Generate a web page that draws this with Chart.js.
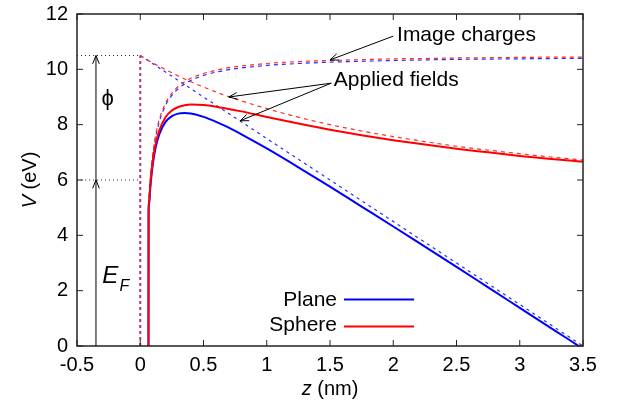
<!DOCTYPE html>
<html>
<head>
<meta charset="utf-8">
<script src="https://cdn.jsdelivr.net/npm/chart.js@4.4.1/dist/chart.umd.min.js"></script>
<style>
  html, body { margin: 0; padding: 0; background: #fff; }
</style>
</head>
<body>
<canvas id="barrierChart" width="620" height="407"></canvas>
<script>
// potential barrier, values (eV vs nm)
const vacuumLevel = 10.5
const fermiLevel = 6

const zTotal = [0.065, 0.066, 0.07, 0.08, 0.1, 0.12, 0.15, 0.2, 0.25, 0.3, 0.35, 0.4, 0.5, 0.6, 0.7, 0.8, 1.0, 1.25, 1.5, 1.75, 2.0, 2.25, 2.5, 2.75, 3.0, 3.25, 3.5]
const planeTotal = [0, 4.85, 5.15, 5.76, 6.6, 7.14, 7.65, 8.1, 8.31, 8.4, 8.42, 8.4, 8.28, 8.1, 7.89, 7.65, 7.14, 6.46, 5.76, 5.04, 4.32, 3.59, 2.86, 2.12, 1.38, 0.64, -0.1]
const sphereTotal = [0, 4.95, 5.25, 5.86, 6.71, 7.26, 7.79, 8.27, 8.51, 8.64, 8.7, 8.73, 8.71, 8.65, 8.57, 8.48, 8.28, 8.04, 7.82, 7.62, 7.44, 7.28, 7.13, 7.0, 6.87, 6.76, 6.66]

const zImage = [0.066, 0.07, 0.08, 0.1, 0.12, 0.15, 0.2, 0.25, 0.3, 0.35, 0.4, 0.5, 0.6, 0.7, 0.8, 1.0, 1.25, 1.5, 1.75, 2.0, 2.25, 2.5, 2.75, 3.0, 3.25, 3.5]
const planeImage = [5.05, 5.36, 6.0, 6.9, 7.5, 8.1, 8.7, 9.06, 9.3, 9.47, 9.6, 9.78, 9.9, 9.99, 10.05, 10.14, 10.21, 10.26, 10.29, 10.32, 10.34, 10.36, 10.37, 10.38, 10.39, 10.4]
const sphereImage = [5.13, 5.44, 6.08, 6.98, 7.58, 8.18, 8.78, 9.14, 9.38, 9.55, 9.68, 9.85, 9.97, 10.06, 10.12, 10.21, 10.28, 10.32, 10.35, 10.38, 10.39, 10.41, 10.42, 10.43, 10.44, 10.44]

const zApplied = [0, 0.1, 0.2, 0.3, 0.4, 0.5, 0.6, 0.7, 0.8, 1.0, 1.25, 1.5, 1.75, 2.0, 2.25, 2.5, 2.75, 3.0, 3.25, 3.5]
const sphereApplied = [10.5, 10.23, 9.99, 9.76, 9.55, 9.36, 9.18, 9.01, 8.86, 8.58, 8.27, 8.0, 7.77, 7.57, 7.39, 7.22, 7.08, 6.95, 6.83, 6.72]
const zPlaneApplied = [0, 3.5]
const planeApplied = [10.5, 0]

const zWall = [0, 0]
const vWall = [0, 10.5]
const zGuide = [-0.5, 0]
const zArrow = -0.35

const xTicks = [-0.5, 0, 0.5, 1, 1.5, 2, 2.5, 3, 3.5]
const yTicks = [0, 2, 4, 6, 8, 10, 12]

const FONT = "'Liberation Sans', Arial, Helvetica, sans-serif"
Chart.defaults.font.family = FONT

const pts = (xs, ys) => xs.map((x, i) => ({x: x, y: ys[i]}))

const line = (data, color, width, dash, smooth) => ({
    data: data,
    borderColor: color,
    borderWidth: width,
    borderDash: dash || [],
    showLine: true,
    fill: false,
    pointRadius: 0,
    cubicInterpolationMode: smooth ? 'monotone' : 'default'
})

function arrow(ctx, x1, y1, x2, y2) {
    const ang = Math.atan2(y2 - y1, x2 - x1), L = 9, w = 0.38
    ctx.beginPath()
    ctx.moveTo(x1, y1)
    ctx.lineTo(x2, y2)
    ctx.moveTo(x2 - L * Math.cos(ang - w), y2 - L * Math.sin(ang - w))
    ctx.lineTo(x2, y2)
    ctx.lineTo(x2 - L * Math.cos(ang + w), y2 - L * Math.sin(ang + w))
    ctx.stroke()
}

const overlay = {
    id: 'overlay',
    afterDatasetsDraw(chart) {
        const {ctx, chartArea: a, scales: {x, y}} = chart
        const px = v => x.getPixelForValue(v)
        const py = v => y.getPixelForValue(v)
        ctx.save()

        // frame + inward ticks on all sides
        ctx.strokeStyle = '#222'
        ctx.lineWidth = 1.5
        ctx.strokeRect(a.left, a.top, a.right - a.left, a.bottom - a.top)
        ctx.lineWidth = 1
        ctx.beginPath()
        xTicks.forEach(t => {
            ctx.moveTo(px(t), a.bottom); ctx.lineTo(px(t), a.bottom - 6)
            ctx.moveTo(px(t), a.top); ctx.lineTo(px(t), a.top + 6)
        })
        yTicks.forEach(t => {
            ctx.moveTo(a.left, py(t)); ctx.lineTo(a.left + 6, py(t))
            ctx.moveTo(a.right, py(t)); ctx.lineTo(a.right - 6, py(t))
        })
        ctx.stroke()

        // level arrows
        ctx.strokeStyle = '#000'
        ctx.lineWidth = 1
        arrow(ctx, px(zArrow), py(0), px(zArrow), py(fermiLevel))
        arrow(ctx, px(zArrow), py(fermiLevel), px(zArrow), py(vacuumLevel))

        // annotation arrows
        arrow(ctx, px(2.0), py(11.2), px(1.5), py(10.34))
        arrow(ctx, px(1.51), py(9.5), px(0.7), py(9.0))
        arrow(ctx, px(1.51), py(9.5), px(0.79), py(8.14))

        ctx.fillStyle = '#000'
        ctx.textBaseline = 'alphabetic'
        ctx.textAlign = 'left'
        ctx.font = '21px ' + FONT
        ctx.fillText('Image charges', px(2.03), py(11.01))
        ctx.fillText('Applied fields', px(1.53), py(9.4))

        ctx.textAlign = 'center'
        ctx.textBaseline = 'middle'
        ctx.font = '22px ' + FONT
        ctx.fillText('ϕ', px(-0.257), py(8.93))

        ctx.textAlign = 'left'
        ctx.textBaseline = 'alphabetic'
        ctx.font = 'italic 24px ' + FONT
        ctx.fillText('E', px(-0.3), py(2.26))
        ctx.font = 'italic 16px ' + FONT
        ctx.fillText('F', px(-0.165), py(2.0))

        // legend
        ctx.font = '21px ' + FONT
        ctx.textAlign = 'right'
        ctx.fillText('Plane', 337, 306)
        ctx.fillText('Sphere', 337, 331)
        ctx.lineWidth = 2
        ctx.strokeStyle = '#0000ff'
        ctx.beginPath(); ctx.moveTo(344, 299.5); ctx.lineTo(414, 299.5); ctx.stroke()
        ctx.strokeStyle = '#ff0000'
        ctx.beginPath(); ctx.moveTo(344, 326.5); ctx.lineTo(414, 326.5); ctx.stroke()

        // axis titles
        ctx.textAlign = 'left'
        ctx.font = 'italic 20px ' + FONT
        const zw = ctx.measureText('z').width
        ctx.font = '20px ' + FONT
        const rest = ' (nm)'
        const tw = zw + ctx.measureText(rest).width
        const cx = (a.left + a.right) / 2
        ctx.font = 'italic 20px ' + FONT
        ctx.fillText('z', cx - tw / 2, 395)
        ctx.font = '20px ' + FONT
        ctx.fillText(rest, cx - tw / 2 + zw, 395)

        ctx.translate(36, (a.top + a.bottom) / 2)
        ctx.rotate(-Math.PI / 2)
        ctx.font = 'italic 20px ' + FONT
        const vw = ctx.measureText('V').width
        ctx.font = '20px ' + FONT
        const rest2 = ' (eV)'
        const tw2 = vw + ctx.measureText(rest2).width
        ctx.font = 'italic 20px ' + FONT
        ctx.fillText('V', -tw2 / 2, 0)
        ctx.font = '20px ' + FONT
        ctx.fillText(rest2, -tw2 / 2 + vw, 0)

        ctx.restore()
    }
}

const barrierChart = new Chart(document.getElementById('barrierChart'), {
    type: 'scatter',
    data: {
        datasets: [
            line(pts(zTotal, sphereTotal), '#ff0000', 2, null, true),
            line(pts(zTotal, planeTotal), '#0000ff', 2, null, true),
            line(pts(zWall, vWall), '#b8337f', 2, [3, 3]),
            line(pts(zApplied, sphereApplied), '#ff2a2a', 1.2, [4, 4], true),
            line(pts(zImage, sphereImage), '#ff2a2a', 1.2, [4, 4], true),
            line(pts(zPlaneApplied, planeApplied), '#2a2aff', 1.2, [3, 4]),
            line(pts(zImage, planeImage), '#2a2aff', 1.2, [4, 4], true),
            line(pts(zGuide, [vacuumLevel, vacuumLevel]), '#333', 1, [1, 3]),
            line(pts(zGuide, [fermiLevel, fermiLevel]), '#333', 1, [1, 3])
        ]
    },
    options: {
        responsive: false,
        animation: false,
        events: [],
        devicePixelRatio: 1,
        layout: {padding: {top: 14, right: 37, left: 0, bottom: 0}},
        plugins: {
            legend: {display: false},
            tooltip: {enabled: false}
        },
        scales: {
            x: {
                type: 'linear',
                min: -0.5, max: 3.5,
                afterBuildTicks: s => { s.ticks = xTicks.map(v => ({value: v})) },
                afterFit: s => { s.height = 61; s.paddingLeft = 0; s.paddingRight = 0 },
                grid: {display: false, drawTicks: false, tickLength: 0},
                border: {display: false},
                ticks: {color: '#000', font: {size: 20}, padding: 7, maxRotation: 0, autoSkip: false,
                        callback: v => String(v)}
            },
            y: {
                min: 0, max: 12,
                afterBuildTicks: s => { s.ticks = yTicks.map(v => ({value: v})) },
                afterFit: s => { s.width = 77; s.paddingTop = 0; s.paddingBottom = 0 },
                grid: {display: false, drawTicks: false, tickLength: 0},
                border: {display: false},
                ticks: {color: '#000', font: {size: 20}, padding: 9, callback: v => String(v)}
            }
        }
    },
    plugins: [overlay]
})
</script>
</body>
</html>
